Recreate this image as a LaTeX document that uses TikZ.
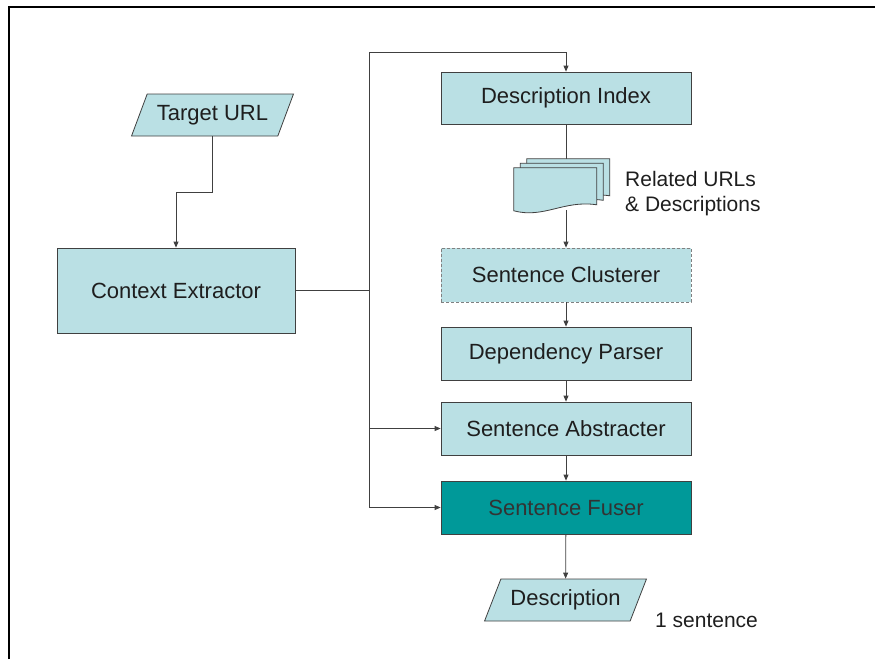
\documentclass[tikz,border=0pt]{standalone}
\usepackage{fontspec}
\setmainfont{Liberation Sans}
\usepackage{xcolor}
\usetikzlibrary{shapes.geometric}
\usetikzlibrary{arrows.meta}
\usetikzlibrary{positioning}

\definecolor{boxfill}{RGB}{186,224,228}
\definecolor{fuserfill}{RGB}{0,153,153}
\definecolor{edge}{RGB}{64,64,64}
\definecolor{ink}{RGB}{30,30,30}

\begin{document}
\begin{tikzpicture}
  [x=1pt,y=-1pt,
  every node/.style={font=\fontsize{22}{26}\selectfont,text=ink,inner sep=0pt},
  node distance=1.6cm]

\tikzset{line/.style={line width=0.8pt,draw=edge},
  flow/.style={line,->, >={Triangle[length=6pt,width=5pt]}},
  stepbox/.style={rectangle,line,fill=boxfill,minimum width=250,minimum height=53},
  iobox/.style={trapezium,trapezium left angle=54,trapezium right angle=126,
    trapezium stretches=true,line,fill=boxfill,inner xsep=4pt,
    minimum width=162,minimum height=42},
  note/.style={align=left,anchor=west,font=\fontsize{21}{25}\selectfont}}

\useasboundingbox (0,0) rectangle (875,659);
\draw[line width=1.6pt,black] (9,659) -- (9,7) -- (875,7);

\node[iobox] (target) at (212.5,115) {Target URL};
\node[stepbox,minimum width=238,minimum height=85] (ctx) at (176,290.5) {Context Extractor};
\node[stepbox,minimum height=52] (index) at (566,98) {Description Index};
\node[stepbox,draw=gray,dashed,dash pattern=on 3pt off 2pt,minimum height=54] (clust) at (566,275) {Sentence Clusterer};
\node[stepbox] (dep)   at (566,353.5) {Dependency Parser};
\node[stepbox] (abstr) at (566,428.5) {Sentence Abstracter};
\node[stepbox,fill=fuserfill,text=black!80] (fuser) at (566,507.5) {Sentence Fuser};
\node[iobox] (desc) at (565.5,600) {Description};

% stack of documents
\node[minimum width=83,minimum height=44] (docs) at (555.5,190) {};
\draw[line] (index.south) -- (index.south |- 0,159);
\foreach \d in {2,1,0}
  \draw[line,fill=boxfill] ([shift={(6.5*\d,-4.5*\d)}]docs.north west) -- ++(83,0) -- ++(0,37)
    .. controls ++(-33,-5) and ++(30,8) .. ++(-83,6) -- cycle;

\node[note] (rel) at (625,194) {Related URLs\\\& Descriptions};
\node[note] (one) at (655,620) {1 sentence};

% connectors
\draw[flow] (target.south) -- ++(0,56) -| (ctx.north);
\coordinate (jn) at (369,290.5);
\coordinate (tp) at (369,52);
\coordinate (bt) at (369,507.5);
\draw[line] (ctx.east) -- (jn);
\draw[flow] (jn) -- (tp) -| (index.north);
\draw[flow] (jn) -- (bt) -- (fuser.west);
\draw[flow] (jn |- abstr.west) -- (abstr.west);
\draw[flow] (index.south |- 0,210) -- (clust.north);
\draw[flow] (clust) -- (dep);
\draw[flow] (dep) -- (abstr);
\draw[flow] (abstr) -- (fuser);
\draw[flow] (fuser) -- (desc);
\end{tikzpicture}
\end{document}
